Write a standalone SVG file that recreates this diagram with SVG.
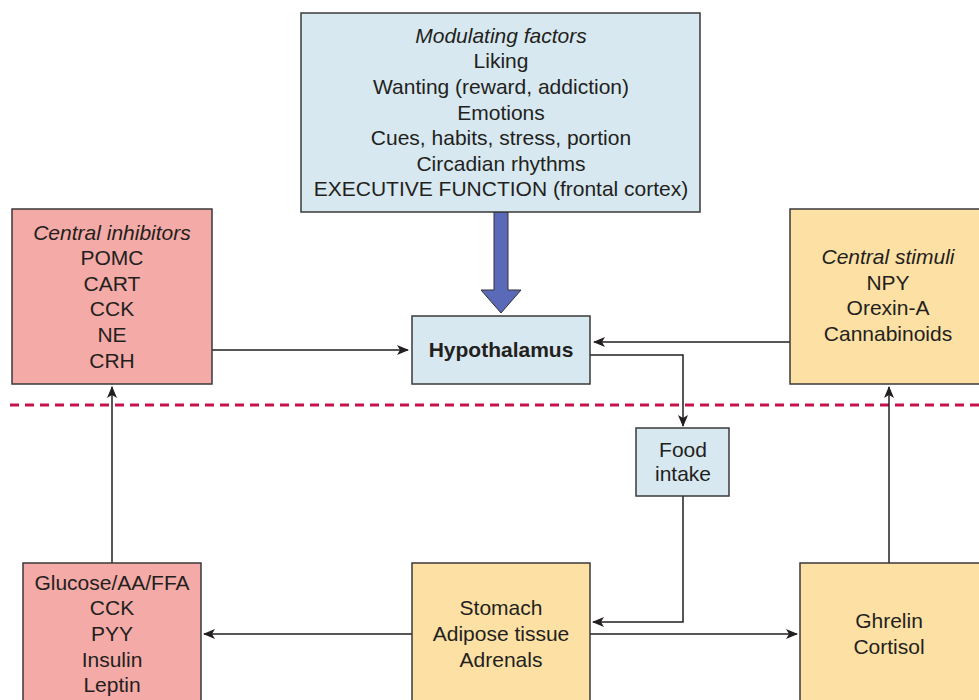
<svg xmlns="http://www.w3.org/2000/svg" width="979" height="700" viewBox="0 0 979 700">
<defs>
<style>
.box{stroke:#3a3a3a;stroke-width:1.5}
.blue{fill:#d7e8f1}
.pink{fill:#f4aaa6}
.yel{fill:#fde0a3}
text{font-family:"Liberation Sans",Arial,sans-serif;font-size:21px;fill:#231f20;text-anchor:middle}
.it{font-style:italic}
.b{font-weight:bold}
.con{fill:none;stroke:#231f20;stroke-width:1.5}
</style>
<marker id="ah" viewBox="0 0 12 10" refX="11" refY="5" markerWidth="12" markerHeight="10" markerUnits="userSpaceOnUse" orient="auto">
<path d="M0,0 L12,5 L0,10 L3,5 Z" fill="#231f20"/>
</marker>
</defs>
<rect width="979" height="700" fill="#fff"/>
<line x1="10" y1="405" x2="979" y2="405" stroke="#c4124b" stroke-width="3" stroke-dasharray="9,6"/>
<g id="connectors">
<path class="con" d="M212,350 H408" marker-end="url(#ah)"/>
<path class="con" d="M790,342 H594" marker-end="url(#ah)"/>
<path class="con" d="M590,355 H683 V426" marker-end="url(#ah)"/>
<path class="con" d="M683,496 V622 H593" marker-end="url(#ah)"/>
<path class="con" d="M412,634 H204" marker-end="url(#ah)"/>
<path class="con" d="M590,634 H797" marker-end="url(#ah)"/>
<path class="con" d="M112,563 V387" marker-end="url(#ah)"/>
<path class="con" d="M889,563 V387" marker-end="url(#ah)"/>
<path d="M494,212 H508 V290 H521 L501,313 L481,290 H494 Z" fill="#5a6ab8" stroke="#333" stroke-width="1"/>
</g>
<g id="modulating">
<rect class="box blue" x="301" y="13" width="399" height="199"/>
<text class="it" x="501" y="43">Modulating factors</text>
<text x="501" y="68">Liking</text>
<text x="501" y="94">Wanting (reward, addiction)</text>
<text x="501" y="120">Emotions</text>
<text x="501" y="145">Cues, habits, stress, portion</text>
<text x="501" y="171">Circadian rhythms</text>
<text x="501" y="196">EXECUTIVE FUNCTION (frontal cortex)</text>
</g>
<g id="inhibitors">
<rect class="box pink" x="12" y="209" width="200" height="175"/>
<text class="it" x="112" y="240">Central inhibitors</text>
<text x="112" y="265">POMC</text>
<text x="112" y="291">CART</text>
<text x="112" y="316">CCK</text>
<text x="112" y="342">NE</text>
<text x="112" y="368">CRH</text>
</g>
<g id="hypothalamus">
<rect class="box blue" x="412" y="316" width="178" height="68"/>
<text class="b" x="501" y="357">Hypothalamus</text>
</g>
<g id="stimuli">
<rect class="box yel" x="790" y="209" width="192" height="175"/>
<text class="it" x="888" y="264">Central stimuli</text>
<text x="888" y="290">NPY</text>
<text x="888" y="315">Orexin-A</text>
<text x="888" y="341">Cannabinoids</text>
</g>
<g id="food">
<rect class="box blue" x="636" y="428" width="93" height="68"/>
<text x="683" y="457">Food</text>
<text x="683" y="481">intake</text>
</g>
<g id="peripheral-inhibitors">
<rect class="box pink" x="23" y="563" width="178" height="142"/>
<text x="112" y="590">Glucose/AA/FFA</text>
<text x="112" y="615">CCK</text>
<text x="112" y="641">PYY</text>
<text x="112" y="667">Insulin</text>
<text x="112" y="692">Leptin</text>
</g>
<g id="organs">
<rect class="box yel" x="412" y="563" width="178" height="142"/>
<text x="501" y="615">Stomach</text>
<text x="501" y="641">Adipose tissue</text>
<text x="501" y="667">Adrenals</text>
</g>
<g id="peripheral-stimuli">
<rect class="box yel" x="800" y="563" width="182" height="142"/>
<text x="889" y="628">Ghrelin</text>
<text x="889" y="654">Cortisol</text>
</g>
</svg>
